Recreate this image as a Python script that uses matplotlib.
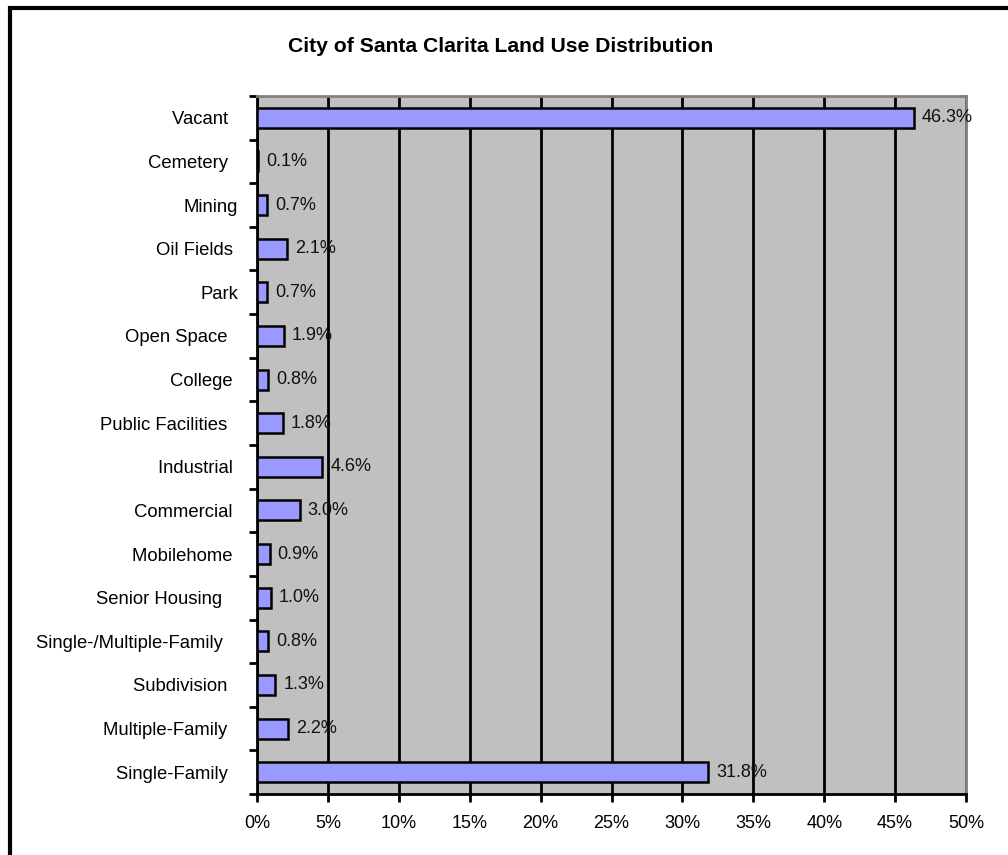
import matplotlib.pyplot as plt
from matplotlib.patches import Rectangle

plt.rcParams['font.family'] = ['Liberation Sans', 'DejaVu Sans']

# Datos (de abajo hacia arriba)
categorias = ['Single-Family  ', 'Multiple-Family  ', 'Subdivision  ',
              'Single-/Multiple-Family   ', 'Senior Housing   ', 'Mobilehome ',
              'Commercial ', 'Industrial ', 'Public Facilities  ', 'College ',
              'Open Space  ', 'Park', 'Oil Fields ', 'Mining', 'Cemetery  ',
              'Vacant  ']
porcentajes = [31.8, 2.2, 1.3, 0.8, 1.0, 0.9, 3.0, 4.6, 1.8, 0.8,
               1.9, 0.7, 2.1, 0.7, 0.1, 46.3]
ticks_x = [0, 5, 10, 15, 20, 25, 30, 35, 40, 45, 50]

fig = plt.figure(figsize=(10.08, 8.55), dpi=100)
ax = fig.add_axes([257 / 1008, 1 - 794 / 855, 709 / 1008, 698 / 855])

# marco exterior
fig.patches.append(Rectangle((10 / 1008, -0.01), 1.0, 1 - 8 / 855 + 0.01,
                             transform=fig.transFigure, fill=False,
                             edgecolor='black', linewidth=3, zorder=0))

ax.set_facecolor('#c0c0c0')
y = range(len(categorias))
ax.barh(y, porcentajes, height=0.46, color='#9999ff', edgecolor='black',
        linewidth=1.8, zorder=3)

for i, v in enumerate(porcentajes):
    ax.text(v + 0.56, i, f'{v:.1f}%', va='center', ha='left', fontsize=13,
            color='#111111', zorder=4)

ax.set_xlim(0, 50)
ax.set_ylim(-0.5, len(categorias) - 0.5)
ax.set_xticks(ticks_x)
ax.set_xticklabels([f'{t}%' for t in ticks_x], fontsize=13)
ax.xaxis.grid(True, color='black', linewidth=2, zorder=1)
ax.set_axisbelow(True)

ax.set_yticks([i for i in y])
ax.set_yticklabels(categorias, fontsize=13.3)
ax.set_yticks([i - 0.5 for i in range(len(categorias) + 1)], minor=True)
ax.tick_params(axis='y', which='major', length=0, pad=13.7)
ax.tick_params(axis='y', which='minor', length=6, width=2, direction='out')
ax.tick_params(axis='x', length=6, width=2, direction='out', pad=9)

for lado in ['top', 'right']:
    ax.spines[lado].set_color('#808080')
    ax.spines[lado].set_linewidth(2)
for lado in ['left', 'bottom']:
    ax.spines[lado].set_color('black')
    ax.spines[lado].set_linewidth(2)

fig.text(500.5 / 1008, 1 - 46 / 855, 'City of Santa Clarita Land Use Distribution',
         ha='center', va='center', fontsize=15.2, fontweight='bold')

fig.savefig('out.png', dpi=100)
